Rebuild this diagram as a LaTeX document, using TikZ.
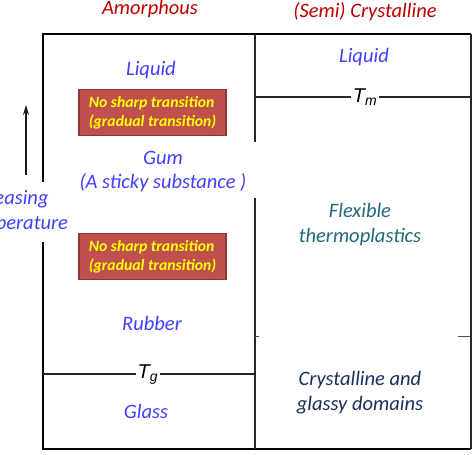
\documentclass[tikz,border=0pt]{standalone}
\usepackage{fontspec}
\usetikzlibrary{arrows.meta}
\setmainfont{Carlito}[ItalicFont={Carlito Italic},BoldFont={Carlito Bold},BoldItalicFont={Carlito Bold Italic}]
\newfontfamily\tfont{Liberation Sans}[ItalicFont={Liberation Sans Italic}]
\definecolor{hdrred}{HTML}{C00000}
\definecolor{lblue}{HTML}{4040FF}
\definecolor{tealc}{HTML}{1F6A7A}
\definecolor{navyc}{HTML}{1A2E5E}
\definecolor{boxfill}{HTML}{C0504D}
\definecolor{boxline}{HTML}{8C3836}
\definecolor{ylw}{HTML}{FFFF00}
\begin{document}
\begin{tikzpicture}[x=1pt,y=-1pt,
  hdr/.style={font=\fontsize{20.5}{24}\selectfont\itshape, text=hdrred},
  bluetxt/.style={font=\fontsize{20.5}{24}\selectfont\itshape, text=lblue, align=center},
  tealtxt/.style={font=\fontsize{20.5}{25}\selectfont\itshape, text=tealc, align=center},
  navytxt/.style={font=\fontsize{20.5}{25}\selectfont\itshape, text=navyc, align=center},
  redbox/.style={draw=boxline, line width=1.5pt, fill=boxfill, minimum width=147pt, minimum height=46pt, inner sep=0pt,
     font=\fontsize{15.7}{19}\selectfont\bfseries\itshape, text=ylw, align=left},
  frame/.style={line width=2.2pt, black},
  thin/.style={line width=1.2pt, black!85},
  tlabel/.style={fill=white, inner sep=1.5pt, font=\tfont\fontsize{20}{20}\selectfont\itshape}
]
\useasboundingbox (0,0) rectangle (472,455);
% frame corners
\coordinate (tl) at (43,34);
\coordinate (tr) at (471,34);
\coordinate (bl) at (43,449);
\coordinate (br) at (471,449);
\coordinate (mt) at (255,34);
\coordinate (mb) at (255,449);
\coordinate (mg1) at (255,142);
\coordinate (mg2) at (255,198);
\coordinate (lg1) at (43,182);
\coordinate (lg2) at (43,242);
% outer frame
\draw[frame] (lg1) -- (tl) -- (tr);
\draw[frame] (lg2) -- (bl) -- (br);
\draw[thin] (tr) -- (br);
% middle divider with gap
\draw[thin] (mt) -- (mg1);
\draw[thin] (mg2) -- (mb);
% Tm line
\coordinate (tm1) at (255,97);
\coordinate (tm2) at (471,97);
\draw[thin] (tm1) -- (tm2);
\node[tlabel] (tm) at (365,97) {T\textsubscript{m}};
% Tg line
\coordinate (tg1) at (43,374);
\coordinate (tg2) at (255,374);
\draw[thin] (tg1) -- (tg2);
\node[tlabel] (tg) at (148,375) {T\textsubscript{g}};
% faint remnant ticks
\coordinate (r1) at (458,336);
\coordinate (r2) at (471,336);
\draw[black!70, line width=0.8pt] (r1) -- (r2);
\coordinate (r3) at (255,336);
\coordinate (r4) at (259,336);
\draw[black!70, line width=0.8pt] (r3) -- (r4);
% headers
\node[hdr] (amor) at (150,9) {Amorphous};
\node[hdr] (semi) at (365,12) {(Semi) Crystalline};
% left column
\node[bluetxt] (liqL) at (151,70) {Liquid};
\node[redbox] (box1) at (152.5,112.5) {No sharp transition\\(gradual transition)};
\node[bluetxt] (gum) at (163,171) {Gum\\(A sticky substance )};
\node[redbox] (box2) at (152.5,256.5) {No sharp transition\\(gradual transition)};
\node[bluetxt] (rub) at (152,323) {Rubber};
\node[bluetxt] (glass) at (146,411) {Glass};
% right column
\node[bluetxt] (liqR) at (364,57) {Liquid};
\node[tealtxt] (flex) at (360,224.5) {Flexible\\thermoplastics};
\node[navytxt] (cryst) at (360,392.5) {Crystalline and\\glassy domains};
% temperature arrow and label
\coordinate (a1) at (26,175);
\coordinate (a2) at (26,105);
\draw[-{Stealth[length=10pt,width=6pt]}, line width=1.3pt, black!90] (a1) -- (a2);
\node[font=\fontsize{20.5}{25}\selectfont\itshape, text=lblue, align=left, anchor=west, inner sep=0pt] (temp) at (-37,211.5) {Increasing\\temperature};
\end{tikzpicture}
\end{document}
